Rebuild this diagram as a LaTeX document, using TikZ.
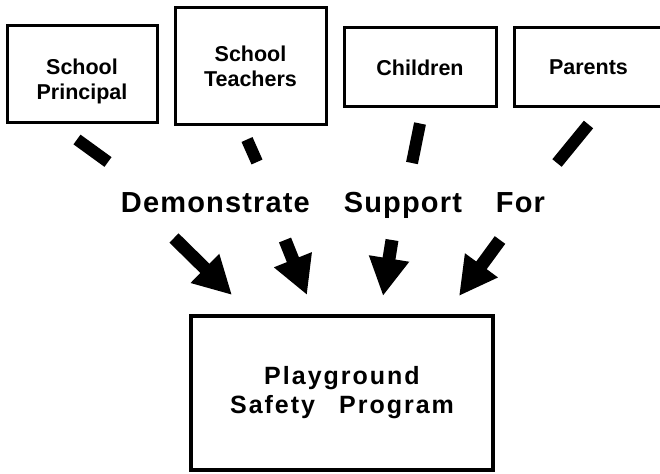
\documentclass[tikz,border=0pt]{standalone}
\usepackage{fontspec}
\setmainfont{Liberation Sans}
\newfontfamily\wordfont[LetterSpace=4]{Liberation Sans}
\newfontfamily\titlefont[LetterSpace=8]{Liberation Sans}
\usetikzlibrary{positioning, arrows.meta, calc}

\begin{document}
\begin{tikzpicture}[
		x=1pt, y=-1pt,
		% --- ESTILOS ---
		groupbox/.style={
			rectangle, draw, line width=3pt, align=center,
			font=\bfseries\fontsize{21.5}{25}\selectfont
		},
		programbox/.style={
			rectangle, draw, line width=4pt, minimum width=302pt, minimum height=154pt,
			align=center, font=\titlefont\bfseries\fontsize{25}{29}\selectfont
		},
		banner/.style={
			anchor=base, font=\wordfont\bfseries\fontsize{29}{34}\selectfont
		},
		tailline/.style={
			draw, line width=12pt
		},
		bigarrow/.style={
			draw, line width=13pt, -{Triangle[length=38pt, width=38pt]}
		}
		]
		\useasboundingbox (0,0) rectangle (660,473);
		
		% ==========================================
		% 1. Grupos de apoyo
		% ==========================================
		\node [groupbox, minimum width=150pt, minimum height=97pt] (principal) at (82,74.5) {\rule{0pt}{30pt}School\\Principal};
		\node [groupbox, minimum width=151pt, minimum height=117pt] (teachers) at (250.5,66.5) {School\\Teachers};
		\node [groupbox, minimum width=152pt, minimum height=79pt] (children) at (420,67.5) {Children};
		\node [groupbox, minimum width=149pt, minimum height=79pt] (parents) at (588.5,67.5) {Parents};
		
		% ==========================================
		% 2. Texto central y programa
		% ==========================================
		\node [banner] (support) at (333,212) {Demonstrate\hspace{34pt}Support\hspace{34pt}For};
		\node [programbox] (program) at (342,393) {Playground\\Safety\hspace{24pt}Program};
		
		% ==========================================
		% 3. Trazos (cortados por el texto)
		% ==========================================
		\coordinate (tail1_top) at ($(principal.south) + (-5,15)$);
		\coordinate (tail1_bot) at (108,162);
		\coordinate (tail2_top) at ($(teachers.south) + (-3.5,13)$);
		\coordinate (tail2_bot) at (257,162);
		\coordinate (tail3_top) at ($(children.south) + (0,15)$);
		\coordinate (tail3_bot) at (412,163);
		\coordinate (tail4_top) at ($(parents.south) + (0,16)$);
		\coordinate (tail4_bot) at (557,163);
		
		\draw [tailline] (tail1_top) -- (tail1_bot);
		\draw [tailline] (tail2_top) -- (tail2_bot);
		\draw [tailline] (tail3_top) -- (tail3_bot);
		\draw [tailline] (tail4_top) -- (tail4_bot);
		
		% --- Flechas hacia el programa ---
		\coordinate (arrow1_in) at (174,238);
		\coordinate (arrow2_in) at (285,240);
		\coordinate (arrow3_in) at (392,240);
		\coordinate (arrow4_in) at (500,240);
		\coordinate (arrow1_tip) at ($(program.north) + (-110,-19)$);
		\coordinate (arrow2_tip) at ($(program.north) + (-35,-19)$);
		\coordinate (arrow3_tip) at ($(program.north) + (41,-18)$);
		\coordinate (arrow4_tip) at ($(program.north) + (117,-18)$);
		
		\draw [bigarrow] (arrow1_in) -- (arrow1_tip);
		\draw [bigarrow] (arrow2_in) -- (arrow2_tip);
		\draw [bigarrow] (arrow3_in) -- (arrow3_tip);
		\draw [bigarrow] (arrow4_in) -- (arrow4_tip);
	\end{tikzpicture}
\end{document}
